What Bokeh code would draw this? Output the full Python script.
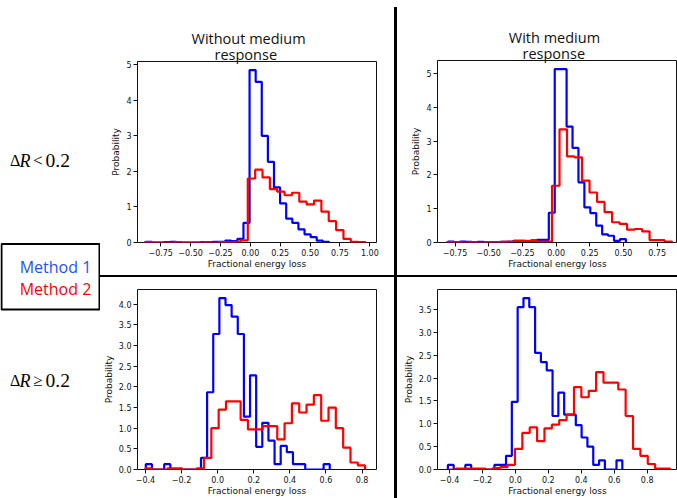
import numpy as np
from bokeh.plotting import figure
from bokeh.models import Range1d, FixedTicker, Label, BoxAnnotation, Title, Spacer
from bokeh.layouts import row, column
from bokeh.embed import file_html
from bokeh.resources import INLINE

# ---------------- data (probability density per bin, 30 bins each) ----------------
tl_blue_range = [-0.875, 0.658]
tl_blue = [0.02, 0, 0, 0.01, 0.02, 0, 0, 0, 0, 0.01, 0.01, 0.02, 0.02, 0.05, 0.04,
           0.1, 0.55, 4.85, 4.52, 3.0, 2.27, 1.55, 1.1, 0.67, 0.55, 0.37, 0.23, 0.15, 0.05, 0.02]
tl_red_range = [-0.883, 0.964]
tl_red = [0.01, 0, 0, 0, 0.01, 0, 0, 0, 0.01, 0, 0.01, 0.01, 0.02, 0.06, 1.8,
          2.05, 1.83, 1.5, 1.43, 1.33, 1.4, 1.15, 1.07, 1.18, 0.87, 0.6, 0.35, 0.1, 0.02, 0.01]

tr_blue_range = [-0.802, 0.518]
tr_blue = [0.03, 0, 0.03, 0.02, 0, 0.02, 0.01, 0, 0.01, 0.02, 0.02, 0.05, 0.05, 0.04, 0.06,
           0.08, 0.08, 0.88, 5.13, 5.13, 3.43, 2.8, 1.78, 1.04, 0.87, 0.5, 0.24, 0.2, 0.05, 0.1]
tr_red_range = [-0.81, 0.861]
tr_red = [0.01, 0.01, 0, 0.01, 0, 0.01, 0.01, 0.02, 0.03, 0.05, 0.05, 0.05, 0.03, 0.03, 1.68,
          3.35, 2.55, 2.52, 1.83, 1.48, 1.2, 0.9, 0.6, 0.55, 0.38, 0.4, 0.33, 0.07, 0.07, 0.03]

bl_blue_range = [-0.398, 0.621]
bl_blue = [0.13, 0, 0, 0.13, 0, 0, 0, 0, 0, 0.28, 1.87, 3.28, 4.15, 3.98, 3.7,
           3.28, 1.28, 2.28, 0.55, 1.13, 0.7, 0.13, 0.57, 0.42, 0.13, 0.13, 0, 0, 0, 0.13]
bl_red_range = [-0.40, 0.817]
bl_red = [0.03, 0, 0, 0.03, 0.03, 0, 0, 0.03, 0.28, 1.0, 1.45, 1.65, 1.65, 1.2, 0.97,
          0.97, 1.05, 1.05, 0.73, 1.12, 1.6, 1.38, 1.57, 1.8, 1.18, 1.5, 1.0, 0.53, 0.17, 0.1]

br_blue_range = [-0.41, 0.649]
br_blue = [0.1, 0, 0, 0.1, 0, 0, 0, 0, 0.1, 0.1, 0.3, 1.48, 3.55, 3.75, 3.55,
           2.55, 2.35, 2.17, 1.17, 1.68, 1.2, 1.2, 0.97, 0.7, 0.5, 0.1, 0.2, 0, 0, 0.2]
br_red_range = [-0.406, 0.938]
br_red = [0, 0.02, 0.02, 0.02, 0.02, 0, 0.03, 0.05, 0.1, 0.45, 0.8, 0.92, 0.62, 0.9, 0.98,
          1.08, 1.2, 1.8, 1.58, 1.72, 2.13, 1.9, 1.9, 1.75, 1.17, 0.45, 0.3, 0.12, 0.02, 0.02]

# tick values / labels
x_ticks_top = [-0.75, -0.5, -0.25, 0, 0.25, 0.5, 0.75, 1]
x_labels_top = ["\u22120.75", "\u22120.50", "\u22120.25", "0.00", "0.25", "0.50", "0.75", "1.00"]
x_ticks_bot = [-0.4, -0.2, 0, 0.2, 0.4, 0.6, 0.8]
x_labels_bot = ["\u22120.4", "\u22120.2", "0.0", "0.2", "0.4", "0.6", "0.8"]
y_ticks_top = [0, 1, 2, 3, 4, 5]
y_labels_top = ["0", "1", "2", "3", "4", "5"]
y_ticks_bl = [0, 0.5, 1, 1.5, 2, 2.5, 3, 3.5, 4]
y_labels_bl = ["0.0", "0.5", "1.0", "1.5", "2.0", "2.5", "3.0", "3.5", "4.0"]
y_ticks_br = [0, 0.5, 1, 1.5, 2, 2.5, 3, 3.5]
y_labels_br = ["0.0", "0.5", "1.0", "1.5", "2.0", "2.5", "3.0", "3.5"]

col_titles = [["Without medium", "response"], ["With medium", "response"]]
row_labels = [["\u0394", "R", "<", "0.2"], ["\u0394", "R", "\u2265", "0.2"]]
methods = ["Method 1", "Method 2"]
x_label = "Fractional energy loss"
y_label = "Probability"

BLUE = "#0000ff"
RED = "#ff0000"


def step_path(rng, heights):
    edges = np.linspace(rng[0], rng[1], len(heights) + 1)
    xs = np.repeat(edges, 2)
    ys = np.concatenate([[0.0], np.repeat(np.asarray(heights, dtype=float), 2), [0.0]])
    return xs, ys


def hist_fig(width, height, borders, x_rng, series, xt, xl, yt, yl):
    left, right, top, bottom = borders
    p = figure(width=width, height=height, x_range=Range1d(*x_rng),
               y_range=Range1d(0, 1.05 * max(max(h) for _, h, _ in series)),
               toolbar_location=None, output_backend="svg", title=None,
               min_border_left=left, min_border_right=right,
               min_border_top=top, min_border_bottom=bottom)
    for rng, h, color in series:
        xs, ys = step_path(rng, h)
        p.line(xs, ys, line_color=color, line_width=2.2)
    p.xgrid.visible = False
    p.ygrid.visible = False
    p.outline_line_color = "#111111"
    p.outline_line_width = 1
    p.outline_line_alpha = 1
    p.xaxis.ticker = FixedTicker(ticks=xt)
    p.xaxis.major_label_overrides = {t: s for t, s in zip(xt, xl)}
    p.yaxis.ticker = FixedTicker(ticks=yt)
    p.yaxis.major_label_overrides = {t: s for t, s in zip(yt, yl)}
    p.xaxis.axis_label = x_label
    p.yaxis.axis_label = y_label
    for ax in (p.xaxis[0], p.yaxis[0]):
        ax.axis_line_color = None
        ax.major_tick_line_color = "#111111"
        ax.major_tick_out = 4
        ax.major_tick_in = 0
        ax.minor_tick_line_color = None
        ax.minor_tick_out = 0
        ax.major_label_text_font = "DejaVu Sans"
        ax.major_label_text_font_size = "8px"
        ax.major_label_text_color = "#111111"
        ax.major_label_standoff = 2
        ax.axis_label_text_font = "DejaVu Sans"
        ax.axis_label_text_font_size = "9px"
        ax.axis_label_text_font_style = "normal"
        ax.axis_label_text_color = "#111111"
    p.xaxis[0].axis_label_standoff = 0
    p.yaxis[0].axis_label_standoff = 2
    p.background_fill_color = "white"
    p.border_fill_color = "white"
    return p


def add_title(p, lines, offsets):
    # first added sits nearest the frame
    for txt, off, sd in zip(reversed(lines), reversed(offsets), (-4.5, -6)):
        p.add_layout(Title(text=txt, align="left", offset=off, standoff=sd,
                           text_font="Open Sans", text_font_size="14.5px",
                           text_font_style="normal", text_color="#111111",
                           text_line_height=1.0), "above")


def black_box(w, h):
    return Spacer(width=w, height=h, styles={"background-color": "black"})


# ---------------- histogram panels ----------------
tl = hist_fig(294, 275, (36, 18, 61, 33), (-0.944, 1.0558),
              [(tl_blue_range, tl_blue, BLUE), (tl_red_range, tl_red, RED)],
              x_ticks_top, x_labels_top, y_ticks_top, y_labels_top)
add_title(tl, col_titles[0], [54, 77])

tr = hist_fig(280, 275, (40, 0, 60, 33), (-0.880, 0.901),
              [(tr_blue_range, tr_blue, BLUE), (tr_red_range, tr_red, RED)],
              x_ticks_top, x_labels_top, y_ticks_top, y_labels_top)
add_title(tr, col_titles[1], [71.3, 85])

bl = hist_fig(294, 221, (36, 17, 12, 28), (-0.444, 0.880),
              [(bl_blue_range, bl_blue, BLUE), (bl_red_range, bl_red, RED)],
              x_ticks_bot, x_labels_bot, y_ticks_bl, y_labels_bl)

br = hist_fig(280, 221, (40, 0, 12, 28), (-0.473, 0.984),
              [(br_blue_range, br_blue, BLUE), (br_red_range, br_red, RED)],
              x_ticks_bot, x_labels_bot, y_ticks_br, y_labels_br)

# ---------------- left label column ----------------
pa = figure(width=100, height=498, x_range=Range1d(0, 100), y_range=Range1d(498, 0),
            toolbar_location=None, output_backend="svg", title=None,
            x_axis_type=None, y_axis_type=None, min_border=0, outline_line_color=None)
pa.xgrid.visible = False
pa.ygrid.visible = False
pa.add_layout(BoxAnnotation(left=1, right=99, top=243.5, bottom=309,
                            fill_alpha=0, line_color="black", line_alpha=1, line_width=2))
for txt, yy, col in zip(methods, (266.7, 288.3), ("#1f4fff", RED)):
    pa.add_layout(Label(x=55, y=yy, text=txt, text_align="center", text_baseline="middle",
                        text_font="Open Sans", text_font_size="16px", text_color=col))
for parts, yy in zip(row_labels, (160, 380)):
    for txt, xx, style, fs in zip(parts, (9.5, 19, 32.5, 45), ("normal", "italic", "normal", "normal"),
                                  ("16px", "18px", "17px", "19.5px")):
        pa.add_layout(Label(x=xx, y=yy, text=txt, text_align="left", text_baseline="middle",
                            text_font="Liberation Serif", text_font_size=fs,
                            text_font_style=style, text_color="black"))

# ---------------- separators & layout ----------------
hl_b = black_box(294, 2)
hl_c = black_box(280, 2)
vl = column(Spacer(width=3, height=7), black_box(3, 491))

layout = row(pa, column(tl, hl_b, bl), vl, column(tr, hl_c, br))

open("out.html", "w").write(file_html(layout, INLINE))
